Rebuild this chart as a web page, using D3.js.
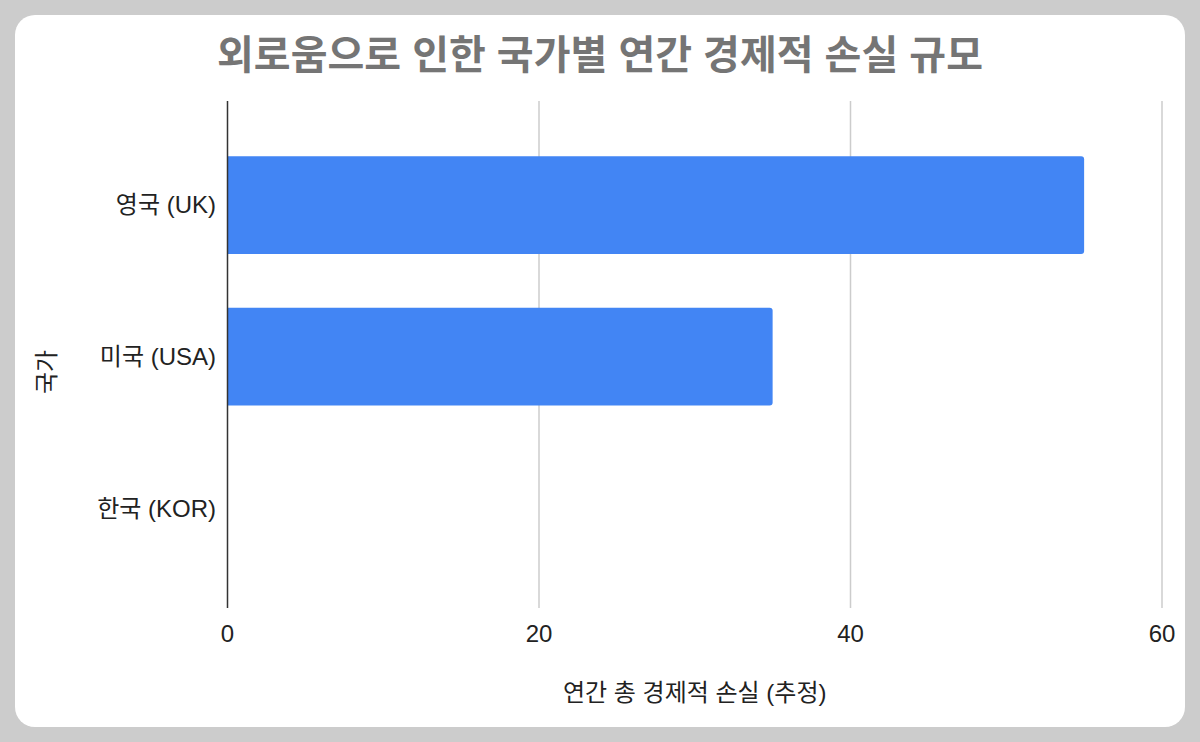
<!DOCTYPE html>
<html>
<head>
<meta charset="utf-8">
<script src="https://cdn.jsdelivr.net/npm/d3@7"></script>
<style>
  body { margin: 0; background: #cccccc; }
  svg { display: block; }
  text { font-family: "Liberation Sans", Arial, "Noto Sans CJK KR", sans-serif; }
</style>
</head>
<body>
<div id="chart"></div>
<script>
const width = 1200;
const height = 742;

// chart data
const countries = ["영국 (UK)", "미국 (USA)", "한국 (KOR)"];
const losses = [55, 35, 0];
const xTicks = [0, 20, 40, 60];

const titleText = "외로움으로 인한 국가별 연간 경제적 손실 규모";
const xTitle = "연간 총 경제적 손실 (추정)";
const yTitle = "국가";

const margin = { top: 101, right: 38, bottom: 134, left: 227.5 };

const svg = d3.select("#chart").append("svg")
    .attr("width", width)
    .attr("height", height);

// card
svg.append("rect")
    .attr("x", 15).attr("y", 15)
    .attr("width", 1170).attr("height", 712)
    .attr("rx", 20)
    .attr("fill", "#ffffff");

const x = d3.scaleLinear()
    .domain([0, 60])
    .range([margin.left, width - margin.right]);

const y = d3.scaleBand()
    .domain(countries)
    .range([margin.top, height - margin.bottom])
    .paddingInner(0.355)
    .paddingOuter(0.35)
    .align(0.52);

// gridlines
svg.append("g")
    .selectAll("line")
    .data(xTicks.filter(d => d > 0))
    .enter().append("line")
    .attr("x1", d => x(d)).attr("x2", d => x(d))
    .attr("y1", margin.top).attr("y2", height - margin.bottom)
    .attr("stroke", "#cccccc")
    .attr("stroke-width", 1.5);

// bars with rounded right corners
const r = 3;
svg.append("g")
    .selectAll("path")
    .data(countries.map((c, i) => ({ name: c, value: losses[i] })).filter(d => d.value > 0))
    .enter().append("path")
    .attr("fill", "#4285f4")
    .attr("d", d => {
        const x0 = x(0), x1 = x(d.value);
        const y0 = y(d.name), y1 = y0 + y.bandwidth();
        return `M${x0},${y0}H${x1 - r}Q${x1},${y0} ${x1},${y0 + r}` +
               `V${y1 - r}Q${x1},${y1} ${x1 - r},${y1}H${x0}Z`;
    });

// y axis line
svg.append("line")
    .attr("x1", x(0)).attr("x2", x(0))
    .attr("y1", margin.top).attr("y2", height - margin.bottom)
    .attr("stroke", "#333333")
    .attr("stroke-width", 1.5);

// x tick labels
svg.append("g")
    .selectAll("text")
    .data(xTicks)
    .enter().append("text")
    .attr("x", d => x(d))
    .attr("y", 642)
    .attr("text-anchor", "middle")
    .attr("font-size", "24px")
    .attr("fill", "#222222")
    .text(d => d);

// category labels
svg.append("g")
    .selectAll("text")
    .data(countries)
    .enter().append("text")
    .attr("x", 216)
    .attr("y", d => y(d) + y.bandwidth() / 2)
    .attr("dy", "0.35em")
    .attr("text-anchor", "end")
    .attr("font-size", "24px")
    .attr("fill", "#222222")
    .text(d => d);

// title
svg.append("text")
    .attr("x", 600)
    .attr("y", 69)
    .attr("text-anchor", "middle")
    .attr("font-size", "40px")
    .attr("font-weight", "bold")
    .attr("fill", "#757575")
    .text(titleText);

// axis titles
svg.append("text")
    .attr("x", (x(0) + x(60)) / 2)
    .attr("y", 701)
    .attr("text-anchor", "middle")
    .attr("font-size", "24px")
    .attr("fill", "#222222")
    .text(xTitle);

svg.append("text")
    .attr("transform", "translate(55,372) rotate(-90)")
    .attr("text-anchor", "middle")
    .attr("font-size", "24px")
    .attr("fill", "#222222")
    .text(yTitle);
</script>
</body>
</html>
